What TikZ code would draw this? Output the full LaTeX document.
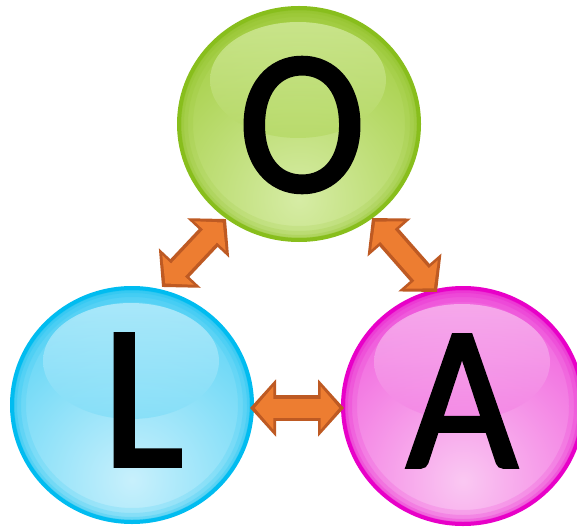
\documentclass[tikz,border=0pt]{standalone}
\usepackage{fontspec}
\setmainfont{Carlito}
\newfontfamily\letterfont[FakeBold=2,FakeStretch=0.93]{Carlito}
\usetikzlibrary{arrows.meta,calc,shapes.geometric}
\definecolor{gB}{RGB}{136,190,28}
\definecolor{gM}{RGB}{160,204,60}
\definecolor{gL}{RGB}{214,236,165}
\definecolor{gH}{RGB}{212,235,160}
\definecolor{cB}{RGB}{0,188,240}
\definecolor{cM}{RGB}{85,210,245}
\definecolor{cL}{RGB}{200,240,252}
\definecolor{cH}{RGB}{192,238,252}
\definecolor{mB}{RGB}{232,0,200}
\definecolor{mM}{RGB}{240,90,220}
\definecolor{mL}{RGB}{250,200,242}
\definecolor{mH}{RGB}{248,190,240}
\definecolor{arrF}{RGB}{237,125,49}
\definecolor{arrD}{RGB}{190,90,35}
\tikzset{
  ball/.style n args={6}{ellipse, minimum width=#5, minimum height=#6, inner sep=0pt, draw=#1, line width=4pt, fill=#2,
    path picture={
      \shade[inner color=#3, outer color=#2] ($(path picture bounding box.center)+(0,-75pt)$) circle (200pt);
      \draw[#1, line width=28pt, opacity=0.12] (path picture bounding box.center) ellipse ({#5/2} and {#6/2});
      \draw[#1, line width=18pt, opacity=0.15] (path picture bounding box.center) ellipse ({#5/2} and {#6/2});
      \draw[#1, line width=10pt, opacity=0.2] (path picture bounding box.center) ellipse ({#5/2} and {#6/2});
      \draw[#1, line width=5pt, opacity=0.25] (path picture bounding box.center) ellipse ({#5/2} and {#6/2});
      \shade[top color=#4, bottom color=#4!40!#2, opacity=0.75] ($(path picture bounding box.center)+(-1pt,44pt)$) ellipse (88pt and 58pt);
    }},
  letter/.style={font=\fontsize{205}{205}\letterfont, text=black, inner sep=0pt},
  dblout/.style={draw=arrD, line width=26pt, {Triangle[length=26pt,width=56pt]}-{Triangle[length=26pt,width=56pt]}},
  dblin/.style={draw=arrF, line width=19pt, shorten <=4.8pt, shorten >=4.8pt, {Triangle[length=18.5pt,width=42pt]}-{Triangle[length=18.5pt,width=42pt]}}
}
\begin{document}
\begin{tikzpicture}[x=1pt,y=-1pt]
\useasboundingbox (0,0) rectangle (577,529);
\fill[white] (0,0) rectangle (577,529);
% spheres
\node[ball={gB}{gM}{gL}{gH}{240pt}{232pt}] (Oball) at (299,124) {};
\node[ball={cB}{cM}{cL}{cH}{240pt}{234pt}] (Lball) at (132,405) {};
\node[ball={mB}{mM}{mL}{mH}{240pt}{236pt}] (Aball) at (463,406) {};
% letters
\node[letter] (O) at (302,125) {O};
\node[letter] (L) at (143,400) {L};
\node[letter] (A) at (462,401) {A};
% arrow end points
\coordinate (lo1) at (162,287);
\coordinate (lo2) at (226,219);
\coordinate (oa1) at (372,218);
\coordinate (oa2) at (437,292);
\coordinate (la1) at (250,408);
\coordinate (la2) at (344,408);
% arrows
\draw[dblout] (lo1) -- (lo2);
\draw[dblin] (lo1) -- (lo2);
\draw[dblout] (oa1) -- (oa2);
\draw[dblin] (oa1) -- (oa2);
\draw[dblout] (la1) -- (la2);
\draw[dblin] (la1) -- (la2);
\end{tikzpicture}
\end{document}
